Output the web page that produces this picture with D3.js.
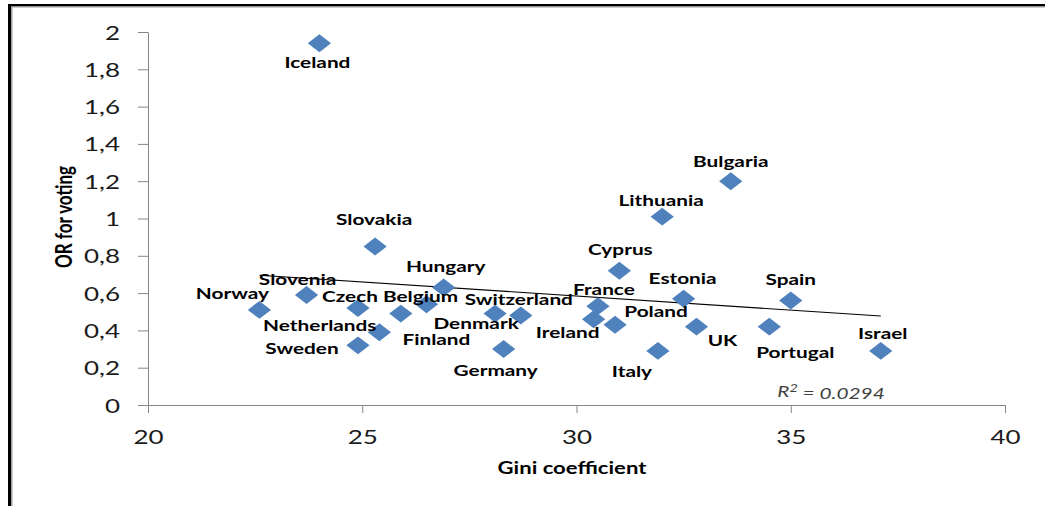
<!DOCTYPE html>
<html>
<head>
<meta charset="utf-8">
<script src="https://cdn.jsdelivr.net/npm/d3@7"></script>
<style>
  html, body { margin: 0; padding: 0; background: #fff; }
  svg { display: block; }
</style>
</head>
<body>
<svg id="chart" width="1045" height="506"></svg>
<script>
// ---- data ----
const countries = ["Iceland","Slovakia","Hungary","Slovenia","Norway","Czech","Belgium","Netherlands","Finland","Sweden","Denmark","Switzerland","Germany","Ireland","France","Poland","Cyprus","Lithuania","Bulgaria","Estonia","Italy","UK","Spain","Portugal","Israel"];
const gini = [24.0,25.3,26.9,23.7,22.6,24.9,26.5,25.9,25.4,24.9,28.1,28.7,28.3,30.4,30.5,30.9,31.0,32.0,33.6,32.5,31.9,32.8,35.0,34.5,37.1];
const orVoting = [1.94,0.85,0.63,0.59,0.51,0.52,0.54,0.49,0.39,0.32,0.49,0.48,0.30,0.46,0.53,0.43,0.72,1.01,1.20,0.57,0.29,0.42,0.56,0.42,0.29];
const xTickValues = [20,25,30,35,40];
const yTickValues = [0,0.2,0.4,0.6,0.8,1.0,1.2,1.4,1.6,1.8,2.0];
const xTitle = "Gini coefficient";
const yTitle = "OR for voting";
const r2Label = "0.0294";

// ---- label placement (offsets from point, px) ----
const labelOffsets = {
  Iceland:[-2,19], Slovakia:[-1,-27], Hungary:[2,-21], Slovenia:[-9,-16], Norway:[-27,-17],
  Czech:[-8,-12], Belgium:[-6,-8], Netherlands:[-81,12], Finland:[57,7], Sweden:[-56,3],
  Denmark:[-19,10], Switzerland:[-2,-16], Germany:[-8,21], Ireland:[-26,13], France:[6,-17],
  Poland:[41,-14], Cyprus:[1,-21], Lithuania:[-1,-16], Bulgaria:[0,-20], Estonia:[-1,-20],
  Italy:[-26,20], UK:[26,14], Spain:[0,-21], Portugal:[26,26], Israel:[2,-18]
};

const SX = 1.3; // horizontal stretch of the original rendering
const FONT = "Lato, 'Open Sans', sans-serif";

const svg = d3.select("#chart");

// outer frame
svg.append("rect").attr("x", 8).attr("y", 4).attr("width", 1040).attr("height", 2.5).attr("fill", "#000");
svg.append("rect").attr("x", 8).attr("y", 6.5).attr("width", 1040).attr("height", 1).attr("fill", "#a0a0a0");
svg.append("rect").attr("x", 8).attr("y", 4).attr("width", 3).attr("height", 510).attr("fill", "#000");
svg.append("rect").attr("x", 11).attr("y", 6.5).attr("width", 1.5).attr("height", 510).attr("fill", "#a0a0a0");

const x = d3.scaleLinear().domain([20, 40]).range([148, 1005]);
const y = d3.scaleLinear().domain([0, 2]).range([405, 32]);

const fmt = d => (Math.round(d * 10) / 10).toString().replace(".", ",");

// axes
const gx = svg.append("g").attr("transform", `translate(0,${y(0)})`)
  .call(d3.axisBottom(x).tickValues(xTickValues).tickSize(8).tickSizeOuter(0).tickFormat(fmt));
const gy = svg.append("g").attr("transform", `translate(${x(20)},0)`)
  .call(d3.axisLeft(y).tickValues(yTickValues).tickSize(10).tickSizeOuter(0).tickFormat(fmt));

[gx, gy].forEach(g => {
  g.select(".domain").attr("stroke", "#868686").attr("stroke-width", 1);
  g.selectAll(".tick line").attr("stroke", "#868686").attr("stroke-width", 1);
  g.selectAll(".tick text").attr("font-family", FONT).attr("font-size", 20).attr("fill", "#1a1a1a");
});
gx.selectAll(".tick text").attr("y", 0).attr("dy", 0)
  .attr("transform", `translate(0,39) scale(${SX},1)`);
gy.selectAll(".tick text").attr("x", 0).attr("dy", 0)
  .attr("transform", `translate(-28,7) scale(${SX},1)`);

// trend line (least squares)
const n = gini.length;
const mx = d3.mean(gini), my = d3.mean(orVoting);
let sxy = 0, sxx = 0;
for (let i = 0; i < n; i++) { sxy += (gini[i]-mx)*(orVoting[i]-my); sxx += (gini[i]-mx)**2; }
const slope = sxy / sxx, intercept = my - slope * mx;
const [gMin, gMax] = d3.extent(gini);
svg.append("line")
  .attr("x1", x(gMin)).attr("y1", y(intercept + slope * gMin))
  .attr("x2", x(gMax)).attr("y2", y(intercept + slope * gMax))
  .attr("stroke", "#000").attr("stroke-width", 1.1);

// points
const pts = countries.map((c, i) => ({ c, g: gini[i], v: orVoting[i] }));
const diamond = d3.symbol().type(d3.symbolSquare).size(160);
svg.append("g").selectAll("path").data(pts).join("path")
  .attr("d", diamond)
  .attr("transform", d => `translate(${x(d.g)},${y(d.v)}) scale(${SX},1) rotate(45)`)
  .attr("fill", "#4F81BD");

// labels
svg.append("g").selectAll("text").data(pts).join("text")
  .attr("transform", d => {
    const o = labelOffsets[d.c] || [0, 0];
    return `translate(${x(d.g) + o[0]},${y(d.v) + o[1]}) scale(${SX},1)`;
  })
  .attr("text-anchor", "middle").attr("dy", "0.36em")
  .attr("font-family", FONT).attr("font-weight", "bold").attr("font-size", 16)
  .attr("fill", "#000")
  .text(d => d.c);

// axis titles
svg.append("text")
  .attr("transform", `translate(572,468) scale(${SX},1)`)
  .attr("text-anchor", "middle").attr("dy", "0.36em")
  .attr("font-family", FONT).attr("font-weight", "bold").attr("font-size", 17)
  .text(xTitle);
svg.append("text")
  .attr("transform", `translate(64,217) scale(${SX},1) rotate(-90)`)
  .attr("text-anchor", "middle").attr("dy", "0.36em")
  .attr("font-family", FONT).attr("font-weight", "bold").attr("font-size", 17)
  .text(yTitle);

// R² annotation
const r2 = svg.append("text")
  .attr("transform", `translate(831,391) scale(${SX},1)`)
  .attr("text-anchor", "middle").attr("dy", "0.36em")
  .attr("font-family", FONT).attr("font-style", "italic").attr("font-size", 16)
  .attr("fill", "#404040");
r2.append("tspan").text("R");
r2.append("tspan").attr("dy", "-0.4em").attr("font-size", 11).text("2");
r2.append("tspan").attr("dy", "0.4em").text(" = " + r2Label);
</script>
</body>
</html>
